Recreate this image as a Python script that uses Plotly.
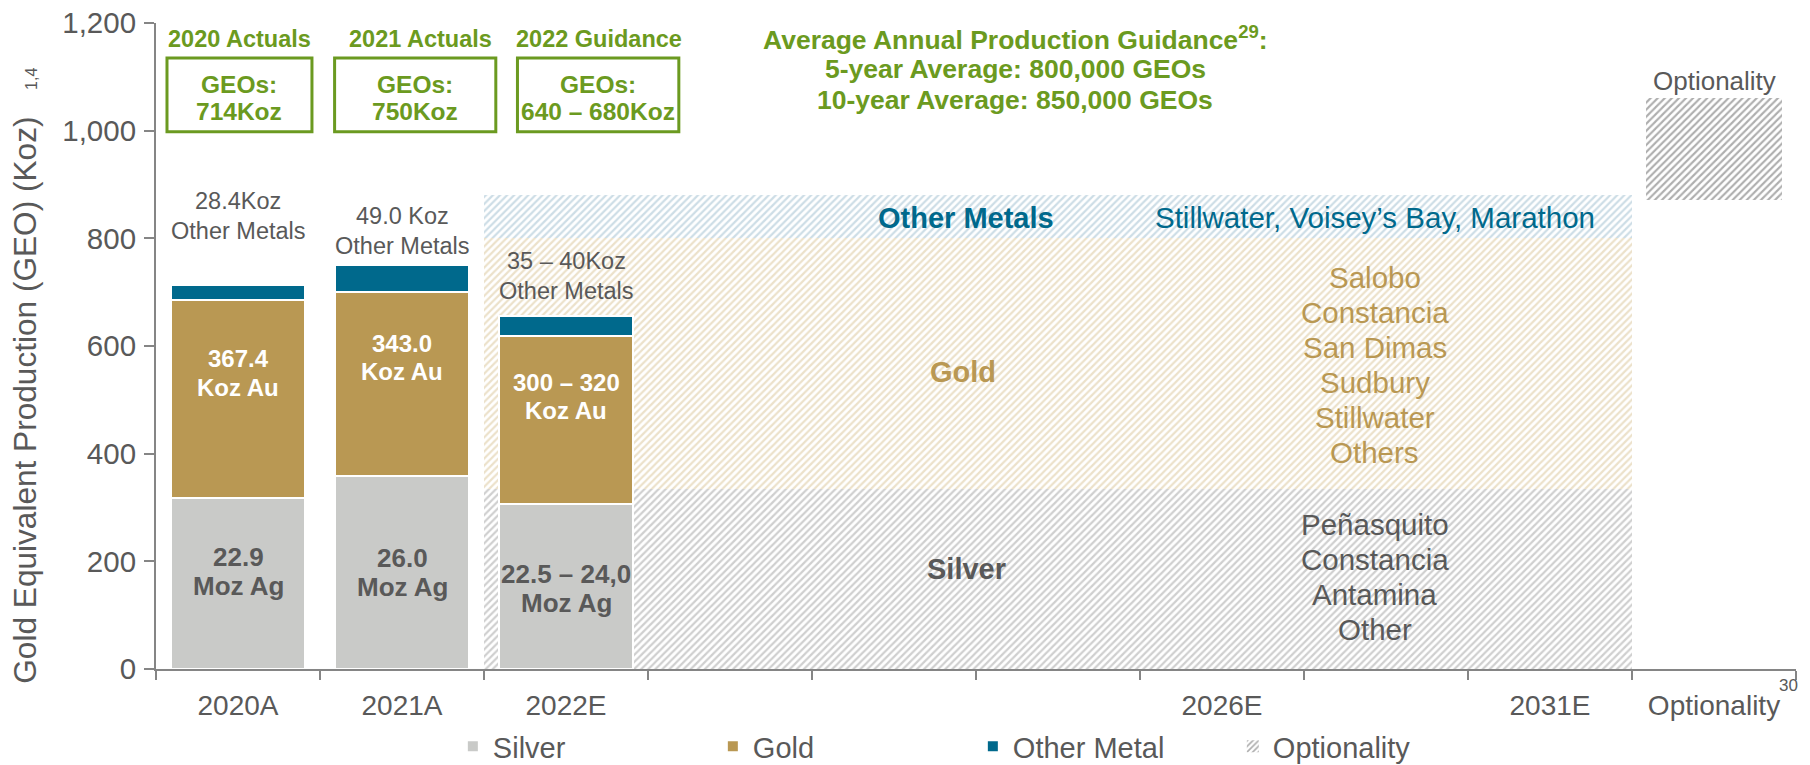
import plotly.graph_objects as go

# ---------------- data ----------------
categories = ["2020A", "2021A", "2022E", "", "", "", "2026E", "", "2031E", "Optionality"]
actual_cats = ["2020A", "2021A", "2022E"]
silver_actual = [318.2, 358.0, 307.0]
gold_actual = [367.4, 343.0, 311.0]
other_actual = [28.4, 49.0, 37.0]

forecast_slots = [2, 3, 4, 5, 6, 7, 8]          # category slots covered by the guidance band
forecast_silver = [335, 335, 335, 335, 335, 335, 335]
forecast_gold = [465, 465, 465, 465, 465, 465, 465]
forecast_other = [80, 80, 80, 80, 80, 80, 80]

optionality_base = [872]
optionality_value = [188]

y_ticks = [0, 200, 400, 600, 800, 1000, 1200]
y_tick_text = ["0", "200", "400", "600", "800", "1,000", "1,200"]

silver_labels = [["22.9", "Moz Ag"], ["26.0", "Moz Ag"], ["22.5 – 24,0", "Moz Ag"]]
gold_labels = [["367.4", "Koz Au"], ["343.0", "Koz Au"], ["300 – 320", "Koz Au"]]
other_labels = [["28.4Koz", "Other Metals"], ["49.0 Koz", "Other Metals"], ["35 – 40Koz", "Other Metals"]]
header_labels = ["2020 Actuals", "2021 Actuals", "2022 Guidance"]
geo_labels = [["GEOs:", "714Koz"], ["GEOs:", "750Koz"], ["GEOs:", "640 – 680Koz"]]
guidance_lines = ["Average Annual Production Guidance<sup>29</sup>:",
                  "5-year Average: 800,000 GEOs", "10-year Average: 850,000 GEOs"]
gold_assets = ["Salobo", "Constancia", "San Dimas", "Sudbury", "Stillwater", "Others"]
silver_assets = ["Peñasquito", "Constancia", "Antamina", "Other"]

# ---------------- styles ----------------
FONT = "Liberation Sans, Arial, sans-serif"
GRAY = "#595959"
AXIS = "#858585"
SILVER = "#C9CAC8"
GOLD = "#B99853"
BLUE = "#00698C"
GREEN = "#6B9A20"

pos = {c: i for i, c in enumerate(categories)}
ax = [pos[c] for c in actual_cats]
opt_x = [pos["Optionality"]]

fig = go.Figure()

# guidance band (hatched)
fb_gold = list(forecast_silver)
fb_other = [s + g for s, g in zip(forecast_silver, forecast_gold)]
for vals, base, fg in [(forecast_silver, [0] * len(forecast_silver), "#A0A0A0"),
                       (forecast_gold, fb_gold, "#D9C496"),
                       (forecast_other, fb_other, "#9CBCCE")]:
    fig.add_trace(go.Bar(
        x=forecast_slots, y=vals, base=base, width=1.0, showlegend=False, hoverinfo="skip",
        marker=dict(color=fg, line=dict(width=0),
                    pattern=dict(shape="/", fgcolor=fg, bgcolor="white", size=5, solidity=0.45)),
    ))

# actual / guidance bars
g_base = list(silver_actual)
o_base = [s + g for s, g in zip(silver_actual, gold_actual)]
fig.add_trace(go.Bar(name="Silver", x=ax, y=silver_actual, base=[0, 0, 0], width=0.82,
                     marker=dict(color=SILVER, line=dict(color="white", width=2))))
fig.add_trace(go.Bar(name="Gold", x=ax, y=gold_actual, base=g_base, width=0.82,
                     marker=dict(color=GOLD, line=dict(color="white", width=2))))
fig.add_trace(go.Bar(name="Other Metal", x=ax, y=other_actual, base=o_base, width=0.82,
                     marker=dict(color=BLUE, line=dict(color="white", width=2))))

# optionality
fig.add_trace(go.Bar(name="Optionality", x=opt_x, y=optionality_value, base=optionality_base, width=0.83,
                     marker=dict(color="#5E5E5E", line=dict(width=0),
                                 pattern=dict(shape="/", fgcolor="#5E5E5E", bgcolor="white",
                                              size=5, solidity=0.42))))

ann = []


def add_lines(x, y, lines, size, color, bold=False, spacing=30, **kw):
    n = len(lines)
    for i, t in enumerate(lines):
        txt = "<b>" + t + "</b>" if bold else t
        ann.append(dict(x=x, y=y, text=txt, showarrow=False, xanchor="center", yanchor="middle",
                        yshift=-(i - (n - 1) / 2) * spacing, font=dict(size=size, color=color), **kw))


# labels in / above bars
for i, x in enumerate(ax):
    add_lines(x, [182, 178.5, 150][i], silver_labels[i], 26, GRAY, bold=True, spacing=29)
    add_lines(x, [550, 579, 506][i], gold_labels[i], 24, "white", bold=True, spacing=28.5)
    add_lines(x, [842, 813, 730][i], other_labels[i], 23.5, GRAY, spacing=30)
    add_lines([0.01, 1.11, 2.2][i], 1170, [header_labels[i]], 23.5, GREEN, bold=True)
    add_lines([0.009, 1.08, 2.196][i], 1060, geo_labels[i], 24.5, GREEN, bold=True, spacing=27)

# band labels
add_lines(4.44, 838, ["Other Metals"], 29, BLUE, bold=True)
add_lines(6.93, 838, ["Stillwater, Voisey’s Bay, Marathon"], 29.5, BLUE)
add_lines(4.42, 551, ["Gold"], 29, GOLD, bold=True)
add_lines(4.44, 185, ["Silver"], 29, GRAY, bold=True)
add_lines(6.93, 565, gold_assets, 29.5, GOLD, spacing=35)
add_lines(6.93, 170, silver_assets, 29.5, GRAY, spacing=35)

# guidance text
add_lines(4.74, 1114.5, guidance_lines, 26.5, GREEN, bold=True, spacing=31)
add_lines(9.0, 1093, ["Optionality"], 26, GRAY)

# axis title & footnotes (paper coordinates relative to the plot area)
PX0, PW, PY0, PH = 156, 1640, 669.5, 646.5
ann.append(dict(xref="paper", yref="paper", x=(25 - PX0) / PW, y=(PY0 - 401) / PH,
                xanchor="center", yanchor="middle",
                text="Gold Equivalent Production (GEO) (Koz)", textangle=-90, showarrow=False,
                font=dict(size=31.6, color=GRAY)))
ann.append(dict(xref="paper", yref="paper", x=(32 - PX0) / PW, y=(PY0 - 79) / PH,
                xanchor="center", yanchor="middle",
                text="1,4", textangle=-90, showarrow=False, font=dict(size=16, color=GRAY)))
ann.append(dict(xref="paper", yref="paper", x=(1788 - PX0) / PW, y=(PY0 - 686) / PH,
                xanchor="center", yanchor="middle",
                text="30", showarrow=False, font=dict(size=17, color=GRAY)))

shapes = []
for x0, x1 in [(-0.433, 0.451), (0.589, 1.572), (1.704, 2.688)]:
    shapes.append(dict(type="rect", xref="x", yref="y", x0=x0, x1=x1, y0=998, y1=1135,
                       line=dict(color=GREEN, width=3), fillcolor="rgba(0,0,0,0)"))

labeled = [i for i, c in enumerate(categories) if c]

fig.update_layout(
    width=1802, height=757,
    margin=dict(l=148, r=14, t=15, b=95.5, autoexpand=False),
    barmode="overlay", bargap=0,
    plot_bgcolor="white", paper_bgcolor="white",
    font=dict(family=FONT, color=GRAY),
    annotations=ann, shapes=shapes,
    legend=dict(orientation="h", x=0.181, y=(PY0 - 747) / PH, xanchor="left", yanchor="middle",
                font=dict(size=29, color=GRAY), entrywidth=215, bgcolor="rgba(0,0,0,0)",
                traceorder="normal"),
    xaxis=dict(range=[-0.5, 9.5], tickmode="array", tickvals=labeled,
               ticktext=[categories[i] for i in labeled], ticks="", showline=True,
               linecolor=AXIS, linewidth=2,
               showgrid=False, zeroline=False, tickfont=dict(size=28, color=GRAY),
               ticklabelstandoff=10, ticklabeloverflow="allow",
               minor=dict(tickmode="array", tickvals=[i - 0.5 for i in range(len(categories) + 1)],
                          ticks="outside", ticklen=9, tickwidth=2, tickcolor=AXIS, showgrid=False)),
    yaxis=dict(range=[0, 1200], tickmode="array", tickvals=y_ticks, ticktext=y_tick_text,
               ticks="outside", ticklen=10, tickwidth=2, tickcolor=AXIS,
               showline=True, linecolor=AXIS, linewidth=2, showgrid=False, zeroline=False,
               tickfont=dict(size=29.5, color=GRAY), ticklabelstandoff=2, ticklabeloverflow="allow"),
)

fig.write_html("out.html")
